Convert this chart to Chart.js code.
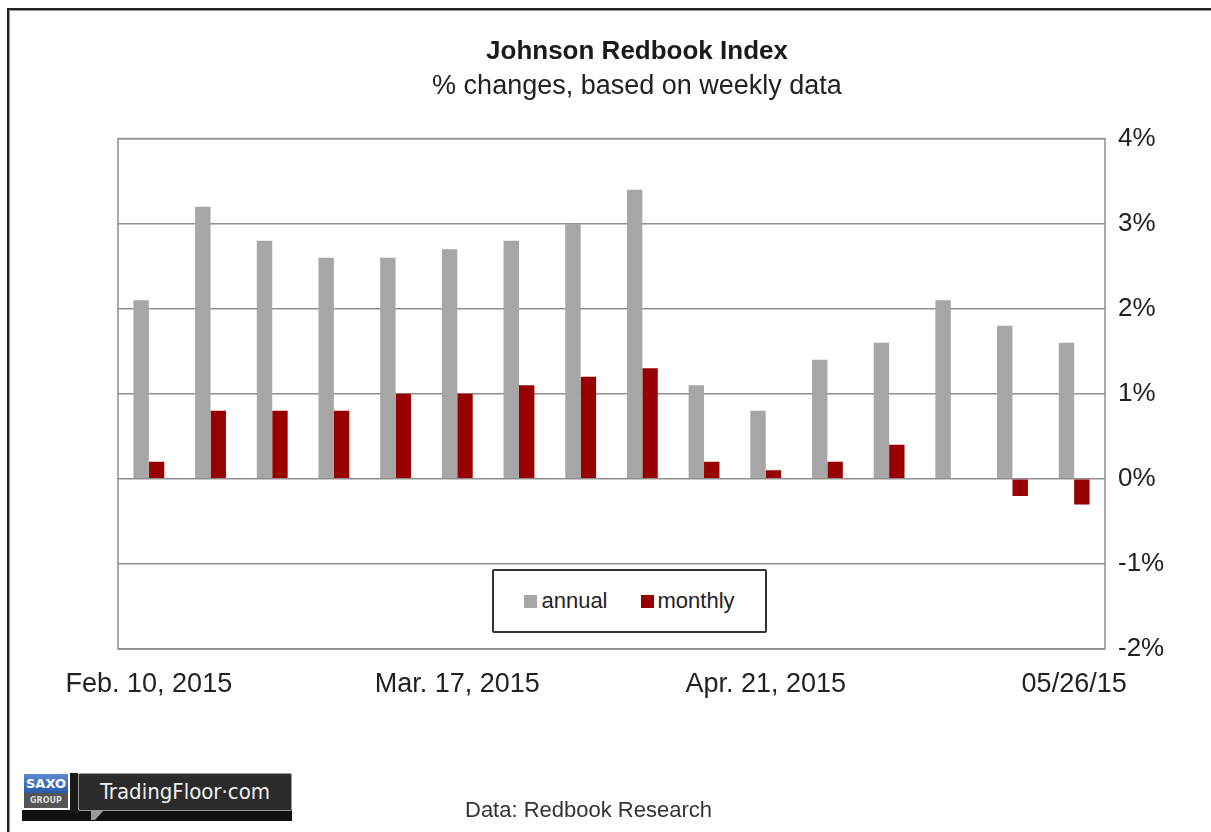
<!DOCTYPE html>
<html>
<head>
<meta charset="utf-8">
<script src="https://cdn.jsdelivr.net/npm/chart.js@4"></script>
<style>
  body { margin: 0; background: #fff; width: 1211px; height: 832px; overflow: hidden; position: relative;
         font-family: "Liberation Sans", Arial, sans-serif; }
  #frame { position: absolute; left: 7px; top: 8px; width: 1230px; height: 850px;
           border-top: 2px solid #222; border-left: 2px solid #222; box-shadow: inset 1px 1px 0 #999; }
  #wrap { position: absolute; left: 0; top: 0; width: 1211px; height: 832px; }
  #legend { position: absolute; left: 492px; top: 569px; width: 271px; height: 60px; border: 2px solid #333;
            border-radius: 2px; background: #fff; display: flex; align-items: center; justify-content: center;
            font-size: 22px; color: #222; }
  #legend .item { display: flex; align-items: center; }
  #legend .item + .item { margin-left: 33px; }
  #legend .sw { width: 13px; height: 13px; margin-right: 4px; }
  #source { position: absolute; left: 465px; top: 797px; font-size: 22px; color: #333; }
  .logo { position: absolute; }
  #bar { left: 22px; top: 810px; width: 270px; height: 11px; background: #111; }
  #sep { left: 70px; top: 773px; width: 8px; height: 40px; background: #1a1a1a; }
  #saxo { left: 24px; top: 774px; width: 44px; height: 19px; background: linear-gradient(#5a8ad0, #2a5aa6);
          color: #fff; font: bold 13px "DejaVu Sans", sans-serif; text-align: center; line-height: 19px; }
  #group { left: 24px; top: 793px; width: 44px; height: 15px; background: #555; color: #ddd;
           font: bold 8px "DejaVu Sans", sans-serif; text-align: center; line-height: 15px; }
  #tf { left: 78px; top: 773px; width: 212px; height: 36px; background: #2b2b2b; border: 1px solid #999;
        border-radius: 2px; color: #eee; font: 22px "DejaVu Sans Condensed", "DejaVu Sans", sans-serif;
        text-align: center; line-height: 36px; }
  #tail { left: 91px; top: 810px; width: 0; height: 0; border-left: 4px solid #999; border-right: 9px solid transparent;
          border-top: 10px solid #999; }
</style>
</head>
<body>
<div id="frame"></div>
<div id="wrap"><canvas id="chart"></canvas></div>
<div id="legend"></div>
<div class="logo" id="bar"></div>
<div class="logo" id="sep"></div>
<div class="logo" id="saxo">SAXO</div>
<div class="logo" id="group">GROUP</div>
<div class="logo" id="tf">TradingFloor·com</div>
<div class="logo" id="tail"></div>
<div id="source">Data: Redbook Research</div>
<script>
// weekly observations, Feb 10 - May 26, 2015
const weeks = ['02/10/15', '02/17/15', '02/24/15', '03/03/15', '03/10/15', '03/17/15', '03/24/15', '03/31/15',
               '04/07/15', '04/14/15', '04/21/15', '04/28/15', '05/05/15', '05/12/15', '05/19/15', '05/26/15'];
const tickLabels = ['Feb. 10, 2015', '', '', '', '', 'Mar. 17, 2015', '', '', '',
                    '', 'Apr. 21, 2015', '', '', '', '', '05/26/15'];
const annual  = [2.1, 3.2, 2.8, 2.6, 2.6, 2.7, 2.8, 3.0, 3.4, 1.1, 0.8, 1.4, 1.6, 2.1, 1.8, 1.6];
const monthly = [0.2, 0.8, 0.8, 0.8, 1.0, 1.0, 1.1, 1.2, 1.3, 0.2, 0.1, 0.2, 0.4, 0.0, -0.2, -0.3];

const gray = '#a6a6a6';
const red = '#990000';
const gridColor = '#8f8f8f';

// box around the plot area
const frame = {
    id: 'frame',
    beforeDatasetsDraw(chart) {
        const a = chart.chartArea;
        const ctx = chart.ctx;
        ctx.save();
        ctx.strokeStyle = gridColor;
        ctx.lineWidth = 1.5;
        ctx.strokeRect(a.left, a.top, a.right - a.left, a.bottom - a.top);
        ctx.restore();
    }
};

const chart = new Chart(document.getElementById('chart'), {
    type: 'bar',
    data: {
        labels: weeks,
        datasets: [
            { label: 'annual', data: annual, backgroundColor: gray, yAxisID: 'y' },
            { label: 'monthly', data: monthly, backgroundColor: red, yAxisID: 'y' }
        ]
    },
    options: {
        responsive: true,
        maintainAspectRatio: false,
        animation: false,
        datasets: { bar: { categoryPercentage: 0.5, barPercentage: 1.0 } },
        layout: { padding: { left: 63, right: 0, top: 0, bottom: 123 } },
        plugins: {
            legend: { display: false },
            tooltip: { enabled: false },
            title: {
                display: true,
                text: 'Johnson Redbook Index',
                color: '#1a1a1a',
                font: { family: 'Liberation Sans', size: 26, weight: 'bold' },
                padding: { top: 36, bottom: 0 }
            },
            subtitle: {
                display: true,
                text: '% changes, based on weekly data',
                color: '#222',
                font: { family: 'Liberation Sans', size: 27 },
                padding: { top: 3, bottom: 36 }
            }
        },
        scales: {
            x: {
                grid: { display: false },
                border: { display: false },
                ticks: {
                    autoSkip: false, maxRotation: 0, minRotation: 0, padding: 11,
                    color: '#222', font: { family: 'Liberation Sans', size: 27 },
                    callback: (v, i) => tickLabels[i]
                },
                afterFit: s => { s.height = 60; }
            },
            // empty spacer on the left so the title centres like the original
            spacer: {
                type: 'linear',
                position: 'left',
                grid: { display: false },
                border: { display: false },
                ticks: { display: false },
                afterFit: s => { s.width = 55; }
            },
            y: {
                position: 'right',
                min: -2, max: 4,
                grid: { color: gridColor, lineWidth: 1.5, drawTicks: false },
                border: { display: false },
                ticks: {
                    stepSize: 1, padding: 13,
                    color: '#222', font: { family: 'Liberation Sans', size: 26 },
                    callback: v => v + '%'
                },
                afterFit: s => { s.width = 106; }
            }
        }
    },
    plugins: [frame]
});

// legend box inside the plot, built from the datasets
document.getElementById('legend').innerHTML = chart.data.datasets.map(d =>
    `<div class="item"><span class="sw" style="background:${d.backgroundColor}"></span>${d.label}</div>`
).join('');
</script>
</body>
</html>
